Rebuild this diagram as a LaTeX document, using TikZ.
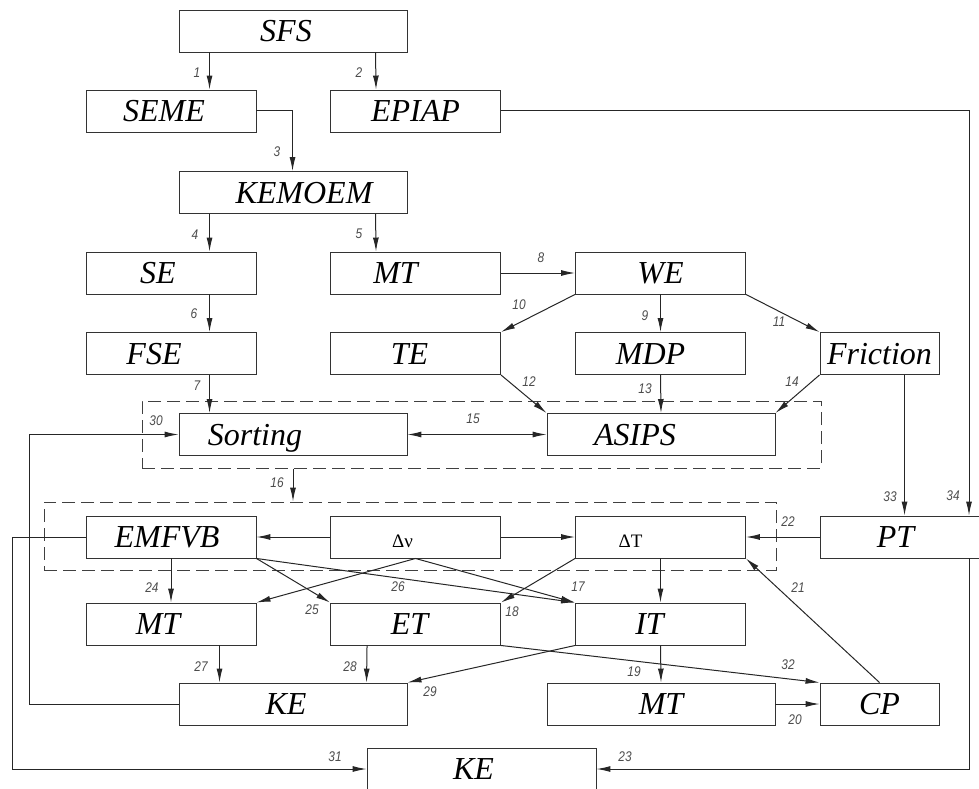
\documentclass[tikz,border=0pt]{standalone}
\usepackage{fontspec}
\setmainfont{Liberation Serif}
\newfontfamily\lblfont{Liberation Sans}
\usetikzlibrary{arrows.meta,calc}
\newcommand\shl[2]{#2\hspace*{#1}}
\newcommand\shr[2]{\hspace*{#1}#2}
\tikzset{
 box/.style={draw=black!80, line width=0.95pt, inner sep=0pt, minimum height=42pt, text height=21pt, text depth=0pt, font=\fontsize{32}{32}\selectfont\itshape},
 wA/.style={minimum width=170pt}, wB/.style={minimum width=228pt}, wC/.style={minimum width=119pt},
 dbox/.style={box, font=\fontsize{19}{19}\selectfont, text height=20pt},
 grp/.style={draw=black!75, line width=1pt, dash pattern=on 13pt off 6pt, inner sep=0pt},
 tip/.tip={Latex[length=14pt,width=6pt]},
 arr/.style={draw=black!85, line width=1pt, -tip},
 darr/.style={draw=black!85, line width=1pt, tip-tip},
 lbl/.style={font=\lblfont\itshape\fontsize{14}{14}\selectfont, text=black!70, inner sep=0pt, xscale=0.85}
}
\begin{document}
\begin{tikzpicture}[x=1pt,y=-1pt]
\useasboundingbox (0,0) rectangle (979,789);
% groups
\node[grp, minimum width=679pt, minimum height=67pt] (g1) at (481.5,434.5) {};
\node[grp, minimum width=732pt, minimum height=68pt] (g2) at (410,536) {};
% boxes
\node[box,wB] (sfs) at (293,31) {\shl{14pt}{SFS}};
\node[box,wA] (seme) at (171,111) {\shl{14pt}{SEME}};
\node[box,wA] (epiap) at (415.5,111) {EPIAP};
\node[box,wB] (kemoem) at (293,192.5) {\shr{22pt}{KEMOEM}};
\node[box,wA] (se) at (171,273) {\shl{26pt}{SE}};
\node[box,wA] (mt1) at (415.5,273) {\shl{40pt}{MT}};
\node[box,wA] (we) at (660.5,273) {WE};
\node[box,wA] (fse) at (171,353.5) {\shl{34pt}{FSE}};
\node[box,wA] (te) at (415.5,353.5) {\shl{12pt}{TE}};
\node[box,wA] (mdp) at (660.5,353.5) {\shl{20pt}{MDP}};
\node[box,wC] (fric) at (879.5,353.5) {Friction};
\node[box,wB] (sort) at (293,434.5) {\shl{76pt}{Sorting}};
\node[box,wB] (asips) at (661,434.5) {\shl{52pt}{ASIPS}};
\node[box,wA] (emfvb) at (171,537) {\shl{8pt}{EMFVB}};
\node[dbox,wA] (dnu) at (415.5,537) {\shl{26pt}{Δν}};
\node[dbox,wA] (dT) at (660.5,537) {\shl{60pt}{ΔT}};
\node[box,minimum width=171pt] (pt) at (905.5,537) {\shl{20pt}{PT}};
\node[box,wA] (mt2) at (171,624) {\shl{26pt}{MT}};
\node[box,wA] (et) at (415.5,624) {\shl{12pt}{ET}};
\node[box,wA] (it) at (660.5,624) {\shl{22pt}{IT}};
\node[box,wB] (ke1) at (293,704) {\shl{14pt}{KE}};
\node[box,wB] (mt3) at (661,704) {MT};
\node[box,wC] (cp) at (879.5,704) {CP};
\node[box,minimum width=229pt] (ke2) at (481.5,769) {\shl{16pt}{KE}};
% helper coordinates
\coordinate (x30) at (29,0);
\coordinate (x31) at (12,0);
\coordinate (x34) at (969,0);
% connectors
\draw[arr] ([xshift=31pt]sfs.south west) -- ([xshift=124pt]seme.north west);
\draw[arr] ([xshift=197pt]sfs.south west) -- ([xshift=46pt]epiap.north west);
\draw[arr] (seme.east) -| ([xshift=114pt]kemoem.north west);
\draw[arr] ([xshift=31pt]kemoem.south west) -- ([xshift=124pt]se.north west);
\draw[arr] ([xshift=197pt]kemoem.south west) -- ([xshift=46pt]mt1.north west);
\draw[arr] ([xshift=124pt]se.south west) -- ([xshift=124pt]fse.north west);
\draw[arr] ([xshift=124pt]fse.south west) -- ([xshift=31pt]sort.north west);
\draw[arr] (mt1.east) -- (we.west);
\draw[arr] (we.south) -- (mdp.north);
\draw[arr] (we.south west) -- (te.north east);
\draw[arr] (we.south east) -- (fric.north west);
\draw[arr] (te.south east) -- (asips.north west);
\draw[arr] (mdp.south) -- (asips.north);
\draw[arr] (fric.south west) -- (asips.north east);
\draw[darr] (sort.east) -- (asips.west);
\draw[arr] (g1.south -| sort.south) -- (g2.north -| sort.south);
\draw[arr] (epiap.east) -| (pt.north -| x34);
\draw[arr] ([xshift=85pt]fric.south west) -- ([xshift=85pt]pt.north west);
\draw[arr] (pt.west) -- (dT.east);
\draw[arr] (dnu.west) -- (emfvb.east);
\draw[arr] (dnu.east) -- (dT.west);
\draw[arr] (dT.south) -- (it.north);
\draw[arr] (dT.south west) -- (et.north east);
\draw[arr] (dnu.south) -- (it.north west);
\draw[arr] (dnu.south) -- (mt2.north east);
\draw[arr] (emfvb.south) -- (mt2.north);
\draw[arr] (emfvb.south east) -- (et.north west);
\draw[arr] (emfvb.south east) -- (it.north west);
\draw[arr] ([xshift=134pt]mt2.south west) -- ([xshift=41pt]ke1.north west);
\draw[arr] ([xshift=37pt]et.south west) -- ([xshift=188pt]ke1.north west);
\draw[arr] (it.south west) -- (ke1.north east);
\draw[arr] (it.south) -- (mt3.north);
\draw[arr] (mt3.east) -- (cp.west);
\draw[arr] (et.south east) -- (cp.north west);
\draw[arr] (cp.north) -- (dT.south east);
\draw[arr] (ke1.west) -- (ke1.west -| x30) -- (sort.west -| x30) -- (sort.west);
\draw[arr] (emfvb.west) -- (emfvb.west -| x31) -- (ke2.west -| x31) -- (ke2.west);
\draw[arr] (pt.south -| x34) |- (ke2.east);
% labels
\node[lbl] (l1) at (197,73) {1};
\node[lbl] (l2) at (359,73) {2};
\node[lbl] (l3) at (277,152) {3};
\node[lbl] (l4) at (195,235) {4};
\node[lbl] (l5) at (359,234) {5};
\node[lbl] (l6) at (194,314) {6};
\node[lbl] (l7) at (197,386) {7};
\node[lbl] (l8) at (541,258) {8};
\node[lbl] (l9) at (645,316) {9};
\node[lbl] (l10) at (519,305) {10};
\node[lbl] (l11) at (779,322) {11};
\node[lbl] (l12) at (529,382) {12};
\node[lbl] (l13) at (645,389) {13};
\node[lbl] (l14) at (792,382) {14};
\node[lbl] (l15) at (473,419) {15};
\node[lbl] (l16) at (277,483) {16};
\node[lbl] (l17) at (578,587) {17};
\node[lbl] (l18) at (512,612) {18};
\node[lbl] (l19) at (634,672) {19};
\node[lbl] (l20) at (795,720) {20};
\node[lbl] (l21) at (798,588) {21};
\node[lbl] (l22) at (788,522) {22};
\node[lbl] (l23) at (625,757) {23};
\node[lbl] (l24) at (152,588) {24};
\node[lbl] (l25) at (312,610) {25};
\node[lbl] (l26) at (398,587) {26};
\node[lbl] (l27) at (201,667) {27};
\node[lbl] (l28) at (350,667) {28};
\node[lbl] (l29) at (430,692) {29};
\node[lbl] (l30) at (156,421) {30};
\node[lbl] (l31) at (335,757) {31};
\node[lbl] (l32) at (788,665) {32};
\node[lbl] (l33) at (890,497) {33};
\node[lbl] (l34) at (953,496) {34};
\end{tikzpicture}
\end{document}
